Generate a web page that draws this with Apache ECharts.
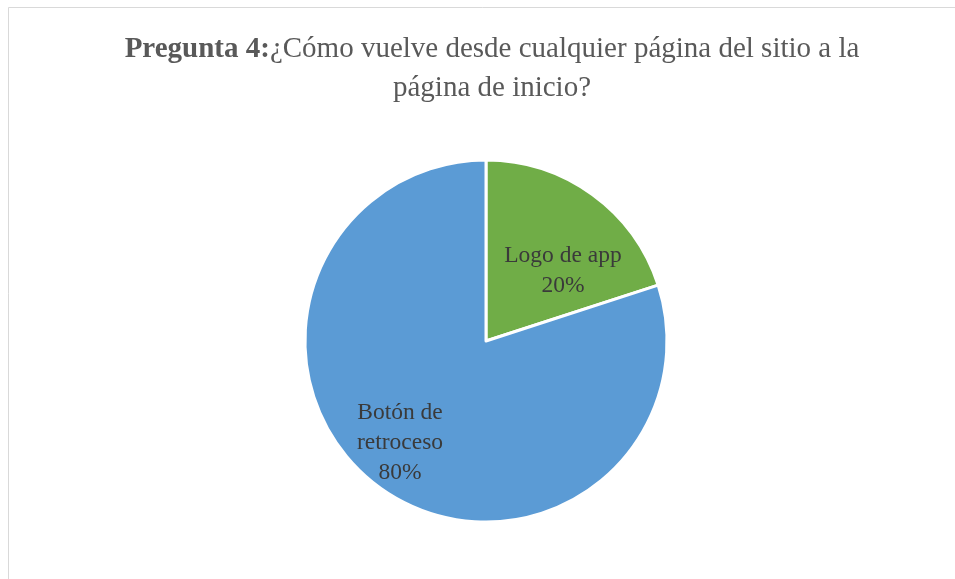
<!DOCTYPE html>
<html>
<head>
<meta charset="utf-8">
<script src="https://cdn.jsdelivr.net/npm/echarts@6/dist/echarts.min.js"></script>
<style>
  html, body { margin: 0; padding: 0; background: #ffffff; }
  #chart { width: 955px; height: 579px; }
</style>
</head>
<body>
<div id="chart"></div>
<script>
// Survey answers for question 4
const categories = ['Logo de app', 'Botón de retroceso'];
const labelLines = ['Logo de app', 'Botón de\nretroceso'];
const values = [20, 80];
const colors = ['#70AD47', '#5B9BD5'];

const chart = echarts.init(document.getElementById('chart'), null, { renderer: 'canvas' });

const serif = '"Liberation Serif", "Times New Roman", serif';

chart.setOption({
  backgroundColor: '#ffffff',
  animation: false,
  title: {
    left: 487,
    textAlign: 'center',
    top: 25,
    text: '{b|Pregunta 4:}{n|¿Cómo vuelve desde cualquier página del sitio a la}\n{n|página de inicio?}',
    textStyle: {
      fontFamily: serif,
      fontSize: 29,
      color: '#595959',
      lineHeight: 39,
      rich: {
        b: { fontFamily: serif, fontSize: 29, fontWeight: 'bold', color: '#595959', lineHeight: 39 },
        n: { fontFamily: serif, fontSize: 29, fontWeight: 'normal', color: '#595959', lineHeight: 39 }
      }
    }
  },
  graphic: [{
    type: 'rect',
    shape: { x: 8.5, y: 7.5, width: 1000, height: 1000 },
    style: { fill: 'none', stroke: '#d9d9d9', lineWidth: 1 },
    silent: true,
    z: -1
  }],
  series: [{
    type: 'pie',
    center: [486, 341],
    radius: [0, 181],
    startAngle: 90,
    clockwise: true,
    itemStyle: { borderColor: '#ffffff', borderWidth: 3 },
    label: {
      show: true,
      position: 'inside',
      fontFamily: serif,
      fontSize: 23.5,
      lineHeight: 30,
      color: '#3a3a3a',
      formatter: p => labelLines[p.dataIndex] + '\n' + p.value + '%'
    },
    labelLayout: p => (p.dataIndex === 0 ? { dx: 22, dy: 5 } : { dx: -31, dy: 26 }),
    emphasis: { disabled: true },
    data: categories.map((c, i) => ({
      name: c,
      value: values[i],
      itemStyle: { color: colors[i] }
    }))
  }]
});
</script>
</body>
</html>
